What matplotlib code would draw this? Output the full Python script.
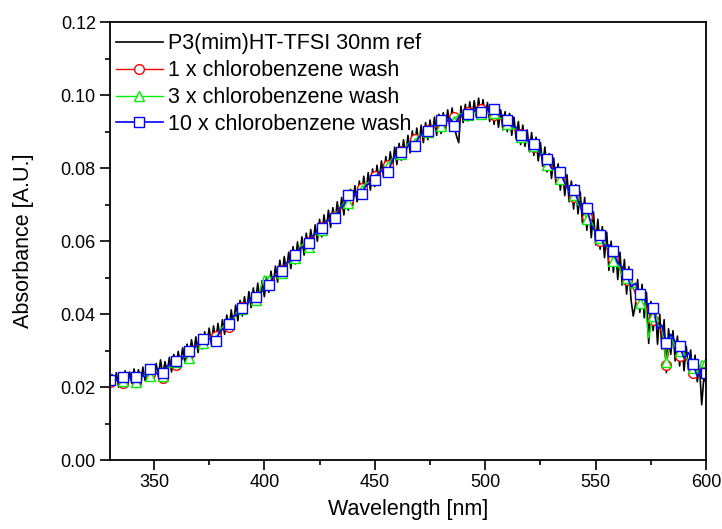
import numpy as np
import matplotlib
matplotlib.use('Agg')
import matplotlib.pyplot as plt
from matplotlib.ticker import MultipleLocator

plt.rcParams['font.family'] = ['Liberation Sans', 'DejaVu Sans']

# wavelength grids: reference spectrum at 1 nm, washed films at 2 nm
wl_ref = np.arange(330, 601, 1)
wavelength = np.arange(330, 601, 2)

# absorbance values, in units of 1e-4
ref_30nm = [
    198, 235, 205, 240, 200, 238, 208, 245, 202, 242,
    210, 250, 215, 248, 205, 255, 218, 262, 220, 258,
    222, 265, 230, 275, 232, 270, 240, 282, 242, 290,
    248, 298, 262, 308, 270, 318, 280, 330, 292, 338,
    295, 345, 305, 352, 312, 362, 318, 368, 325, 375,
    330, 385, 345, 398, 355, 412, 368, 425, 382, 438,
    395, 448, 408, 462, 418, 472, 428, 485, 438, 492,
    448, 502, 460, 518, 475, 532, 488, 548, 500, 558,
    515, 570, 525, 585, 538, 598, 550, 612, 562, 622,
    575, 632, 588, 645, 600, 660, 612, 672, 625, 685,
    638, 692, 650, 708, 662, 720, 672, 732, 685, 742,
    698, 752, 708, 765, 718, 778, 730, 788, 740, 798,
    750, 808, 762, 820, 775, 832, 788, 845, 800, 858,
    810, 868, 822, 878, 832, 890, 842, 902, 852, 910,
    862, 918, 870, 925, 878, 932, 885, 940, 890, 948,
    895, 952, 905, 960, 910, 965, 915, 888, 870, 970,
    925, 975, 930, 982, 935, 985, 940, 992, 938, 988,
    935, 980, 928, 972, 920, 968, 912, 960, 905, 955,
    900, 950, 890, 940, 880, 928, 865, 918, 860, 905,
    845, 898, 835, 885, 820, 870, 805, 858, 790, 840,
    772, 828, 758, 812, 740, 798, 725, 782, 708, 765,
    688, 755, 675, 735, 650, 720, 630, 700, 610, 680,
    590, 660, 578, 640, 555, 625, 520, 600, 515, 580,
    495, 570, 480, 550, 455, 530, 440, 395, 425, 495,
    405, 482, 390, 460, 320, 435, 355, 420, 318, 400,
    305, 385, 240, 360, 290, 355, 272, 340, 258, 325,
    245, 312, 248, 302, 230, 288, 215, 258, 152, 228,
    212]

wash_1x = [
    214, 220, 218, 212, 226, 224, 220, 230, 232, 236,
    238, 242, 226, 250, 262, 262, 272, 285, 290, 312,
    315, 328, 330, 342, 340, 350, 368, 365, 395, 402,
    420, 430, 436, 445, 462, 468, 482, 495, 515, 522,
    535, 552, 560, 578, 590, 598, 610, 628, 640, 648,
    665, 670, 684, 700, 712, 725, 728, 745, 758, 762,
    778, 785, 802, 808, 825, 832, 848, 858, 865, 880,
    886, 892, 905, 910, 912, 925, 930, 928, 940, 945,
    946, 955, 950, 958, 962, 955, 950, 945, 942, 930,
    925, 920, 900, 895, 880, 878, 858, 850, 830, 815,
    808, 785, 775, 752, 745, 720, 705, 692, 665, 650,
    628, 600, 598, 565, 550, 535, 510, 495, 490, 455,
    440, 435, 405, 385, 372, 350, 262, 330, 318, 285,
    288, 268, 240, 248, 252, 245]

wash_3x = [
    222, 215, 220, 216, 219, 228, 214, 226, 234, 230,
    240, 238, 232, 256, 255, 268, 274, 284, 280, 306,
    320, 322, 338, 335, 330, 358, 370, 375, 385, 412,
    414, 428, 438, 440, 465, 505, 495, 500, 510, 512,
    540, 545, 555, 585, 595, 585, 618, 622, 630, 655,
    658, 668, 690, 705, 705, 728, 730, 740, 760, 758,
    770, 792, 795, 805, 828, 830, 840, 860, 872, 870,
    892, 890, 898, 912, 918, 915, 932, 935, 930, 948,
    950, 945, 958, 950, 948, 955, 948, 950, 935, 938,
    920, 912, 908, 885, 890, 868, 860, 845, 838, 810,
    800, 792, 770, 762, 735, 728, 700, 690, 660, 655,
    620, 608, 590, 580, 545, 540, 505, 498, 470, 475,
    430, 445, 335, 395, 370, 365, 270, 340, 310, 300,
    295, 270, 252, 240, 272, 270]

wash_10x = [
    219, 224, 216, 227, 231, 222, 228, 236, 228, 250,
    241, 236, 239, 258, 262, 271, 270, 290, 299, 305,
    322, 332, 328, 336, 326, 355, 362, 373, 395, 400,
    416, 425, 444, 448, 458, 470, 480, 502, 508, 519,
    540, 548, 562, 580, 585, 595, 615, 628, 635, 655,
    660, 663, 690, 700, 727, 718, 735, 730, 752, 760,
    768, 790, 795, 790, 822, 840, 845, 852, 870, 860,
    885, 898, 901, 915, 920, 931, 925, 938, 916, 940,
    950, 949, 955, 960, 953, 962, 958, 961, 948, 945,
    932, 915, 912, 890, 890, 870, 865, 850, 828, 825,
    800, 795, 790, 760, 738, 740, 712, 680, 690, 645,
    625, 618, 585, 590, 572, 540, 530, 510, 475, 485,
    455, 440, 420, 418, 360, 370, 320, 345, 325, 312,
    280, 295, 265, 230, 250, 240]

labels = ['P3(mim)HT-TFSI 30nm ref', '1 x chlorobenzene wash',
          '3 x chlorobenzene wash', '10 x chlorobenzene wash']

fig = plt.figure(figsize=(7.22, 5.29), dpi=100)
ax = fig.add_axes([0.152, 0.130, 0.826, 0.828])

ax.plot(wl_ref, np.array(ref_30nm) / 1e4, color='black', lw=1.2, label=labels[0])
ax.plot(wavelength, np.array(wash_1x) / 1e4, color='red', lw=1.0, marker='o',
        ms=7, mfc='white', mec='red', mew=1.0, markevery=3, label=labels[1])
ax.plot(wavelength, np.array(wash_3x) / 1e4, color='#00ee00', lw=1.0, marker='^',
        ms=7.5, mfc='white', mec='#00ee00', mew=1.0, markevery=3, label=labels[2])
ax.plot(wavelength, np.array(wash_10x) / 1e4, color='blue', lw=1.2, marker='s',
        ms=7, mfc='white', mec='blue', mew=1.0, markevery=3, label=labels[3])

ax.set_xlim(330, 600)
ax.set_ylim(0, 0.12)
ax.xaxis.set_major_locator(MultipleLocator(50))
ax.xaxis.set_minor_locator(MultipleLocator(25))
ax.yaxis.set_major_locator(MultipleLocator(0.02))
ax.yaxis.set_minor_locator(MultipleLocator(0.01))
ax.yaxis.set_major_formatter(plt.FormatStrFormatter('%.2f'))
ax.tick_params(which='both', direction='out', top=False, right=False, width=1.2,
               labelsize=13)
ax.tick_params(which='major', length=7, pad=3)
ax.tick_params(which='minor', length=3.5)
for s in ax.spines.values():
    s.set_linewidth(1.3)

ax.set_xlabel('Wavelength [nm]', fontsize=15.5, labelpad=6)
ax.set_ylabel('Absorbance [A.U.]', fontsize=15.5, labelpad=19)

ax.legend(loc='upper left', bbox_to_anchor=(-0.009, 1.0), frameon=False,
          fontsize=15.5, handlelength=2.2, handletextpad=0.25, labelspacing=0.27,
          borderaxespad=0.32, borderpad=0.2)

fig.savefig('out.png', dpi=100)
